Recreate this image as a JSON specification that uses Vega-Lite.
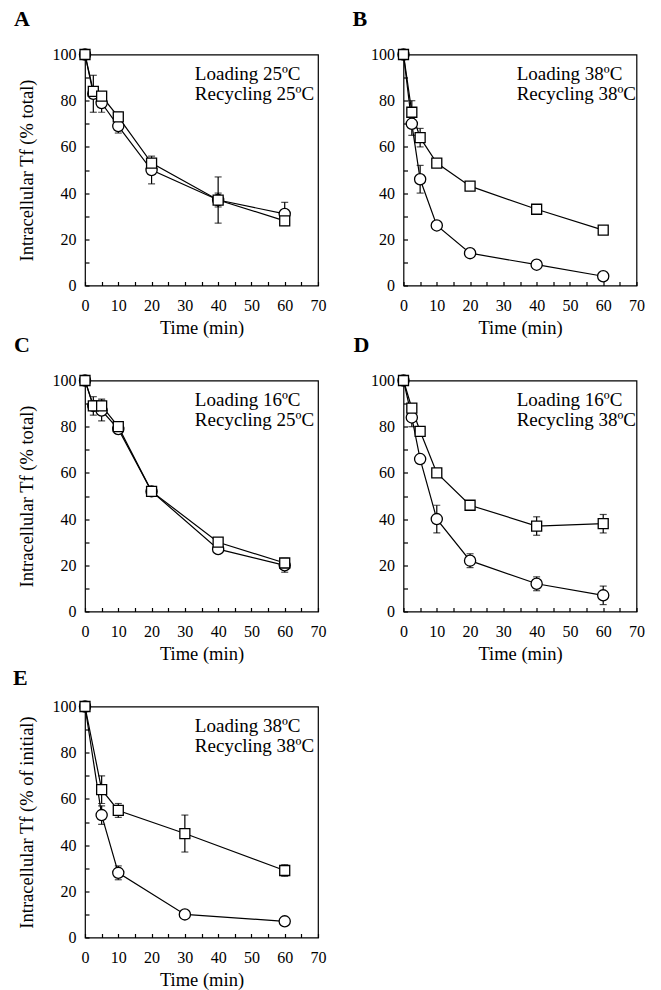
{
  "$schema": "https://vega.github.io/schema/vega-lite/v6.json",
  "padding": {"left": 12, "top": 6.5, "right": 0, "bottom": 0},
  "background": "white",
  "datasets": {
    "pts": [
      {"p": "A", "s": "ci", "t": 0, "v": 100}, {"p": "A", "s": "ci", "t": 2.5, "v": 83}, {"p": "A", "s": "ci", "t": 5, "v": 79}, {"p": "A", "s": "ci", "t": 10, "v": 69}, {"p": "A", "s": "ci", "t": 20, "v": 50}, {"p": "A", "s": "ci", "t": 40, "v": 37}, {"p": "A", "s": "ci", "t": 60, "v": 31},
      {"p": "A", "s": "sq", "t": 0, "v": 100}, {"p": "A", "s": "sq", "t": 2.5, "v": 84}, {"p": "A", "s": "sq", "t": 5, "v": 82}, {"p": "A", "s": "sq", "t": 10, "v": 73}, {"p": "A", "s": "sq", "t": 20, "v": 53}, {"p": "A", "s": "sq", "t": 40, "v": 37}, {"p": "A", "s": "sq", "t": 60, "v": 28},
      {"p": "B", "s": "ci", "t": 0, "v": 100}, {"p": "B", "s": "ci", "t": 2.5, "v": 70}, {"p": "B", "s": "ci", "t": 5, "v": 46}, {"p": "B", "s": "ci", "t": 10, "v": 26}, {"p": "B", "s": "ci", "t": 20, "v": 14}, {"p": "B", "s": "ci", "t": 40, "v": 9}, {"p": "B", "s": "ci", "t": 60, "v": 4},
      {"p": "B", "s": "sq", "t": 0, "v": 100}, {"p": "B", "s": "sq", "t": 2.5, "v": 75}, {"p": "B", "s": "sq", "t": 5, "v": 64}, {"p": "B", "s": "sq", "t": 10, "v": 53}, {"p": "B", "s": "sq", "t": 20, "v": 43}, {"p": "B", "s": "sq", "t": 40, "v": 33}, {"p": "B", "s": "sq", "t": 60, "v": 24},
      {"p": "C", "s": "ci", "t": 0, "v": 100}, {"p": "C", "s": "ci", "t": 2.5, "v": 89}, {"p": "C", "s": "ci", "t": 5, "v": 87}, {"p": "C", "s": "ci", "t": 10, "v": 79}, {"p": "C", "s": "ci", "t": 20, "v": 52}, {"p": "C", "s": "ci", "t": 40, "v": 27}, {"p": "C", "s": "ci", "t": 60, "v": 20},
      {"p": "C", "s": "sq", "t": 0, "v": 100}, {"p": "C", "s": "sq", "t": 2.5, "v": 89}, {"p": "C", "s": "sq", "t": 5, "v": 89}, {"p": "C", "s": "sq", "t": 10, "v": 80}, {"p": "C", "s": "sq", "t": 20, "v": 52}, {"p": "C", "s": "sq", "t": 40, "v": 30}, {"p": "C", "s": "sq", "t": 60, "v": 21},
      {"p": "D", "s": "ci", "t": 0, "v": 100}, {"p": "D", "s": "ci", "t": 2.5, "v": 84}, {"p": "D", "s": "ci", "t": 5, "v": 66}, {"p": "D", "s": "ci", "t": 10, "v": 40}, {"p": "D", "s": "ci", "t": 20, "v": 22}, {"p": "D", "s": "ci", "t": 40, "v": 12}, {"p": "D", "s": "ci", "t": 60, "v": 7},
      {"p": "D", "s": "sq", "t": 0, "v": 100}, {"p": "D", "s": "sq", "t": 2.5, "v": 88}, {"p": "D", "s": "sq", "t": 5, "v": 78}, {"p": "D", "s": "sq", "t": 10, "v": 60}, {"p": "D", "s": "sq", "t": 20, "v": 46}, {"p": "D", "s": "sq", "t": 40, "v": 37}, {"p": "D", "s": "sq", "t": 60, "v": 38},
      {"p": "E", "s": "ci", "t": 0, "v": 100}, {"p": "E", "s": "ci", "t": 5, "v": 53}, {"p": "E", "s": "ci", "t": 10, "v": 28}, {"p": "E", "s": "ci", "t": 30, "v": 10}, {"p": "E", "s": "ci", "t": 60, "v": 7},
      {"p": "E", "s": "sq", "t": 0, "v": 100}, {"p": "E", "s": "sq", "t": 5, "v": 64}, {"p": "E", "s": "sq", "t": 10, "v": 55}, {"p": "E", "s": "sq", "t": 30, "v": 45}, {"p": "E", "s": "sq", "t": 60, "v": 29}
    ],
    "errs": [
      {"p": "A", "s": "ci", "t": 2.5, "v": 75, "v2": 91}, {"p": "A", "s": "ci", "t": 5, "v": 75, "v2": 83}, {"p": "A", "s": "ci", "t": 10, "v": 66, "v2": 72}, {"p": "A", "s": "sq", "t": 10, "v": 71, "v2": 75}, {"p": "A", "s": "ci", "t": 20, "v": 44, "v2": 56}, {"p": "A", "s": "sq", "t": 20, "v": 51, "v2": 55}, {"p": "A", "s": "ci", "t": 40, "v": 27, "v2": 47}, {"p": "A", "s": "sq", "t": 40, "v": 34, "v2": 40}, {"p": "A", "s": "ci", "t": 60, "v": 26, "v2": 36}, {"p": "A", "s": "sq", "t": 60, "v": 26, "v2": 30},
      {"p": "B", "s": "sq", "t": 2.5, "v": 70, "v2": 80}, {"p": "B", "s": "ci", "t": 2.5, "v": 65, "v2": 75}, {"p": "B", "s": "sq", "t": 5, "v": 60, "v2": 68}, {"p": "B", "s": "ci", "t": 5, "v": 40, "v2": 52},
      {"p": "C", "s": "sq", "t": 2.5, "v": 87, "v2": 91}, {"p": "C", "s": "ci", "t": 2.5, "v": 85, "v2": 93}, {"p": "C", "s": "sq", "t": 5, "v": 86, "v2": 92}, {"p": "C", "s": "ci", "t": 5, "v": 82.5, "v2": 91.5}, {"p": "C", "s": "sq", "t": 10, "v": 78, "v2": 82}, {"p": "C", "s": "ci", "t": 10, "v": 77, "v2": 81}, {"p": "C", "s": "sq", "t": 60, "v": 19.5, "v2": 22.5}, {"p": "C", "s": "ci", "t": 60, "v": 17, "v2": 23},
      {"p": "D", "s": "sq", "t": 2.5, "v": 86, "v2": 90}, {"p": "D", "s": "ci", "t": 2.5, "v": 80, "v2": 88}, {"p": "D", "s": "ci", "t": 10, "v": 34, "v2": 46}, {"p": "D", "s": "ci", "t": 20, "v": 19, "v2": 25}, {"p": "D", "s": "ci", "t": 40, "v": 9, "v2": 15}, {"p": "D", "s": "ci", "t": 60, "v": 3, "v2": 11}, {"p": "D", "s": "sq", "t": 40, "v": 33, "v2": 41}, {"p": "D", "s": "sq", "t": 60, "v": 34, "v2": 42},
      {"p": "E", "s": "sq", "t": 5, "v": 58, "v2": 70}, {"p": "E", "s": "ci", "t": 5, "v": 49, "v2": 57}, {"p": "E", "s": "sq", "t": 10, "v": 52, "v2": 58}, {"p": "E", "s": "ci", "t": 10, "v": 25, "v2": 31}, {"p": "E", "s": "sq", "t": 30, "v": 37, "v2": 53}, {"p": "E", "s": "sq", "t": 60, "v": 26.5, "v2": 31.5}
    ],
    "notes": [
      {"p": "A", "t": 33, "v": 89, "text": "Loading 25ºC\nRecycling 25ºC"},
      {"p": "B", "t": 34, "v": 89, "text": "Loading 38ºC\nRecycling 38ºC"},
      {"p": "C", "t": 33, "v": 89, "text": "Loading 16ºC\nRecycling 25ºC"},
      {"p": "D", "t": 34, "v": 89, "text": "Loading 16ºC\nRecycling 38ºC"},
      {"p": "E", "t": 33, "v": 89, "text": "Loading 38ºC\nRecycling 38ºC"}
    ]
  },
  "bounds": "flush",
  "columns": 2,
  "spacing": {"row": 95, "column": 85.5},
  "concat": [
    {
      "title": {"text": "A", "dx": -71, "offset": 15.5},
      "width": 233, "height": 231,
      "encoding": {
        "x": {"field": "t", "type": "quantitative", "scale": {"domain": [0, 70], "nice": false}, "axis": {"title": "Time (min)", "values": [0, 5, 10, 15, 20, 25, 30, 35, 40, 45, 50, 55, 60, 65, 70], "labelExpr": "datum.value % 10 === 0 ? datum.label : ''"}},
        "y": {"field": "v", "type": "quantitative", "scale": {"domain": [0, 100], "nice": false}, "axis": {"title": "Intracellular Tf (% total)", "values": [0, 10, 20, 30, 40, 50, 60, 70, 80, 90, 100], "labelExpr": "datum.value % 20 === 0 ? datum.label : ''"}}
      },
      "layer": [
        {"data": {"name": "errs"}, "transform": [{"filter": "datum.p === 'A'"}], "mark": {"type": "errorbar", "ticks": {"size": 7, "color": "black", "thickness": 1.2}, "rule": {"color": "black", "strokeWidth": 1.2}}, "encoding": {"y2": {"field": "v2"}}},
        {"data": {"name": "pts"}, "transform": [{"filter": "datum.p === 'A'"}], "mark": {"type": "line", "color": "black", "strokeWidth": 1.2}, "encoding": {"detail": {"field": "s"}}},
        {"data": {"name": "pts"}, "transform": [{"filter": "datum.p === 'A'"}], "mark": {"type": "point", "fill": "white", "filled": true, "stroke": "black", "strokeWidth": 1.3, "opacity": 1}, "encoding": {"shape": {"field": "s", "type": "nominal", "scale": {"domain": ["sq", "ci"], "range": ["square", "circle"]}, "legend": null}, "size": {"field": "s", "type": "ordinal", "scale": {"domain": ["sq", "ci"], "range": [100, 125]}, "legend": null}}},
        {"data": {"name": "notes"}, "transform": [{"filter": "datum.p === 'A'"}], "mark": {"type": "text", "align": "left", "baseline": "alphabetic", "fontSize": 19, "lineHeight": 20, "lineBreak": "\n", "font": "Liberation Serif", "color": "black"}, "encoding": {"text": {"field": "text"}}}
      ]
    },
    {
      "title": {"text": "B", "dx": -51, "offset": 15.5},
      "width": 233, "height": 231,
      "encoding": {
        "x": {"field": "t", "type": "quantitative", "scale": {"domain": [0, 70], "nice": false}, "axis": {"title": "Time (min)", "values": [0, 5, 10, 15, 20, 25, 30, 35, 40, 45, 50, 55, 60, 65, 70], "labelExpr": "datum.value % 10 === 0 ? datum.label : ''"}},
        "y": {"field": "v", "type": "quantitative", "scale": {"domain": [0, 100], "nice": false}, "axis": {"title": null, "values": [0, 10, 20, 30, 40, 50, 60, 70, 80, 90, 100], "labelExpr": "datum.value % 20 === 0 ? datum.label : ''"}}
      },
      "layer": [
        {"data": {"name": "errs"}, "transform": [{"filter": "datum.p === 'B'"}], "mark": {"type": "errorbar", "ticks": {"size": 7, "color": "black", "thickness": 1.2}, "rule": {"color": "black", "strokeWidth": 1.2}}, "encoding": {"y2": {"field": "v2"}}},
        {"data": {"name": "pts"}, "transform": [{"filter": "datum.p === 'B'"}], "mark": {"type": "line", "color": "black", "strokeWidth": 1.2}, "encoding": {"detail": {"field": "s"}}},
        {"data": {"name": "pts"}, "transform": [{"filter": "datum.p === 'B'"}], "mark": {"type": "point", "fill": "white", "filled": true, "stroke": "black", "strokeWidth": 1.3, "opacity": 1}, "encoding": {"shape": {"field": "s", "type": "nominal", "scale": {"domain": ["sq", "ci"], "range": ["square", "circle"]}, "legend": null}, "size": {"field": "s", "type": "ordinal", "scale": {"domain": ["sq", "ci"], "range": [100, 125]}, "legend": null}}},
        {"data": {"name": "notes"}, "transform": [{"filter": "datum.p === 'B'"}], "mark": {"type": "text", "align": "left", "baseline": "alphabetic", "fontSize": 19, "lineHeight": 20, "lineBreak": "\n", "font": "Liberation Serif", "color": "black"}, "encoding": {"text": {"field": "text"}}}
      ]
    },
    {
      "title": {"text": "C", "dx": -71, "offset": 15},
      "width": 233, "height": 231,
      "encoding": {
        "x": {"field": "t", "type": "quantitative", "scale": {"domain": [0, 70], "nice": false}, "axis": {"title": "Time (min)", "values": [0, 5, 10, 15, 20, 25, 30, 35, 40, 45, 50, 55, 60, 65, 70], "labelExpr": "datum.value % 10 === 0 ? datum.label : ''"}},
        "y": {"field": "v", "type": "quantitative", "scale": {"domain": [0, 100], "nice": false}, "axis": {"title": "Intracellular Tf (% total)", "values": [0, 10, 20, 30, 40, 50, 60, 70, 80, 90, 100], "labelExpr": "datum.value % 20 === 0 ? datum.label : ''"}}
      },
      "layer": [
        {"data": {"name": "errs"}, "transform": [{"filter": "datum.p === 'C'"}], "mark": {"type": "errorbar", "ticks": {"size": 7, "color": "black", "thickness": 1.2}, "rule": {"color": "black", "strokeWidth": 1.2}}, "encoding": {"y2": {"field": "v2"}}},
        {"data": {"name": "pts"}, "transform": [{"filter": "datum.p === 'C'"}], "mark": {"type": "line", "color": "black", "strokeWidth": 1.2}, "encoding": {"detail": {"field": "s"}}},
        {"data": {"name": "pts"}, "transform": [{"filter": "datum.p === 'C'"}], "mark": {"type": "point", "fill": "white", "filled": true, "stroke": "black", "strokeWidth": 1.3, "opacity": 1}, "encoding": {"shape": {"field": "s", "type": "nominal", "scale": {"domain": ["sq", "ci"], "range": ["square", "circle"]}, "legend": null}, "size": {"field": "s", "type": "ordinal", "scale": {"domain": ["sq", "ci"], "range": [100, 125]}, "legend": null}}},
        {"data": {"name": "notes"}, "transform": [{"filter": "datum.p === 'C'"}], "mark": {"type": "text", "align": "left", "baseline": "alphabetic", "fontSize": 19, "lineHeight": 20, "lineBreak": "\n", "font": "Liberation Serif", "color": "black"}, "encoding": {"text": {"field": "text"}}}
      ]
    },
    {
      "title": {"text": "D", "dx": -50, "offset": 15},
      "width": 233, "height": 231,
      "encoding": {
        "x": {"field": "t", "type": "quantitative", "scale": {"domain": [0, 70], "nice": false}, "axis": {"title": "Time (min)", "values": [0, 5, 10, 15, 20, 25, 30, 35, 40, 45, 50, 55, 60, 65, 70], "labelExpr": "datum.value % 10 === 0 ? datum.label : ''"}},
        "y": {"field": "v", "type": "quantitative", "scale": {"domain": [0, 100], "nice": false}, "axis": {"title": null, "values": [0, 10, 20, 30, 40, 50, 60, 70, 80, 90, 100], "labelExpr": "datum.value % 20 === 0 ? datum.label : ''"}}
      },
      "layer": [
        {"data": {"name": "errs"}, "transform": [{"filter": "datum.p === 'D'"}], "mark": {"type": "errorbar", "ticks": {"size": 7, "color": "black", "thickness": 1.2}, "rule": {"color": "black", "strokeWidth": 1.2}}, "encoding": {"y2": {"field": "v2"}}},
        {"data": {"name": "pts"}, "transform": [{"filter": "datum.p === 'D'"}], "mark": {"type": "line", "color": "black", "strokeWidth": 1.2}, "encoding": {"detail": {"field": "s"}}},
        {"data": {"name": "pts"}, "transform": [{"filter": "datum.p === 'D'"}], "mark": {"type": "point", "fill": "white", "filled": true, "stroke": "black", "strokeWidth": 1.3, "opacity": 1}, "encoding": {"shape": {"field": "s", "type": "nominal", "scale": {"domain": ["sq", "ci"], "range": ["square", "circle"]}, "legend": null}, "size": {"field": "s", "type": "ordinal", "scale": {"domain": ["sq", "ci"], "range": [100, 125]}, "legend": null}}},
        {"data": {"name": "notes"}, "transform": [{"filter": "datum.p === 'D'"}], "mark": {"type": "text", "align": "left", "baseline": "alphabetic", "fontSize": 19, "lineHeight": 20, "lineBreak": "\n", "font": "Liberation Serif", "color": "black"}, "encoding": {"text": {"field": "text"}}}
      ]
    },
    {
      "title": {"text": "E", "dx": -72, "offset": 8.5},
      "width": 233, "height": 231,
      "encoding": {
        "x": {"field": "t", "type": "quantitative", "scale": {"domain": [0, 70], "nice": false}, "axis": {"title": "Time (min)", "values": [0, 5, 10, 15, 20, 25, 30, 35, 40, 45, 50, 55, 60, 65, 70], "labelExpr": "datum.value % 10 === 0 ? datum.label : ''"}},
        "y": {"field": "v", "type": "quantitative", "scale": {"domain": [0, 100], "nice": false}, "axis": {"title": "Intracellular Tf (% of initial)", "values": [0, 10, 20, 30, 40, 50, 60, 70, 80, 90, 100], "labelExpr": "datum.value % 20 === 0 ? datum.label : ''"}}
      },
      "layer": [
        {"data": {"name": "errs"}, "transform": [{"filter": "datum.p === 'E'"}], "mark": {"type": "errorbar", "ticks": {"size": 7, "color": "black", "thickness": 1.2}, "rule": {"color": "black", "strokeWidth": 1.2}}, "encoding": {"y2": {"field": "v2"}}},
        {"data": {"name": "pts"}, "transform": [{"filter": "datum.p === 'E'"}], "mark": {"type": "line", "color": "black", "strokeWidth": 1.2}, "encoding": {"detail": {"field": "s"}}},
        {"data": {"name": "pts"}, "transform": [{"filter": "datum.p === 'E'"}], "mark": {"type": "point", "fill": "white", "filled": true, "stroke": "black", "strokeWidth": 1.3, "opacity": 1}, "encoding": {"shape": {"field": "s", "type": "nominal", "scale": {"domain": ["sq", "ci"], "range": ["square", "circle"]}, "legend": null}, "size": {"field": "s", "type": "ordinal", "scale": {"domain": ["sq", "ci"], "range": [100, 125]}, "legend": null}}},
        {"data": {"name": "notes"}, "transform": [{"filter": "datum.p === 'E'"}], "mark": {"type": "text", "align": "left", "baseline": "alphabetic", "fontSize": 19, "lineHeight": 20, "lineBreak": "\n", "font": "Liberation Serif", "color": "black"}, "encoding": {"text": {"field": "text"}}}
      ]
    }
  ],
  "config": {
    "font": "Liberation Serif",
    "view": {"stroke": "black", "strokeWidth": 1.2},
    "title": {"anchor": "start", "frame": "group", "fontSize": 22, "fontWeight": "bold", "font": "Liberation Serif", "color": "black"},
    "axis": {
      "domain": false, "grid": false,
      "tickColor": "black", "tickSize": -4, "tickWidth": 1.2,
      "labelColor": "black", "labelFontSize": 16, "labelFont": "Liberation Serif",
      "labelFlush": false, "labelOverlap": false, "labelBound": false,
      "titleColor": "black", "titleFontSize": 18.5, "titleFontWeight": "normal", "titleFont": "Liberation Serif"
    },
    "axisY": {"titlePadding": 16, "labelPadding": 13},
    "axisX": {"titlePadding": 5, "labelPadding": 16}
  }
}
